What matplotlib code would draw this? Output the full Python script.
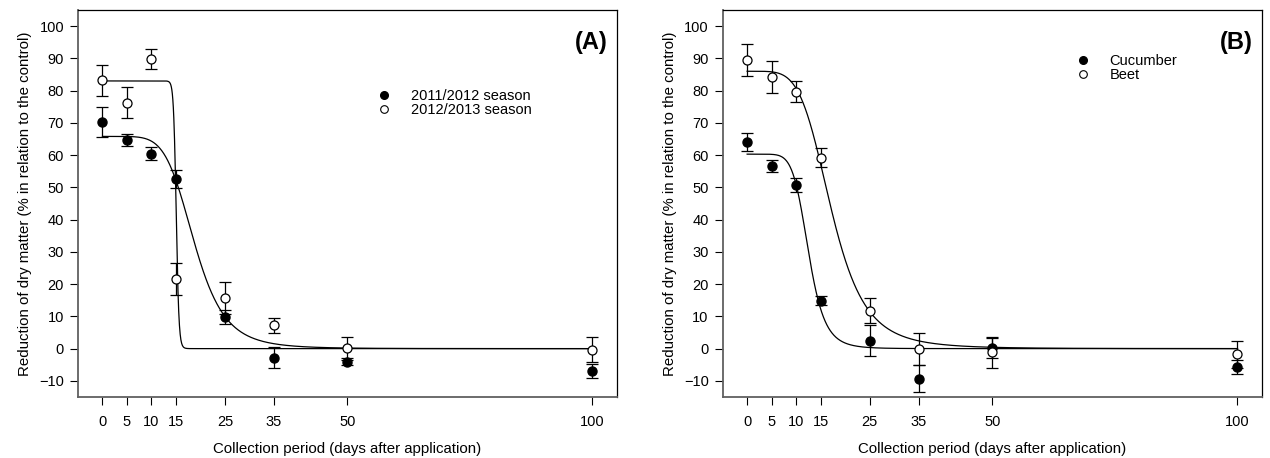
import numpy as np
import matplotlib
matplotlib.use('Agg')
import matplotlib.pyplot as plt
from matplotlib.lines import Line2D

plt.rcParams['font.family'] = ['Liberation Sans', 'DejaVu Sans']

# collection periods (days after application)
days = [0, 5, 10, 15, 25, 35, 50, 100]
xticks = [0, 5, 10, 15, 25, 35, 50, 100]

# panel A - seasons
season1_mean = [70.3, 64.7, 60.5, 52.6, 9.8, -2.8, -4.0, -7.0]
season1_err = [4.7, 1.8, 1.9, 2.9, 2.2, 3.2, 1.1, 2.2]
season2_mean = [83.2, 76.2, 89.9, 21.5, 15.6, 7.2, 0.1, -0.4]
season2_err = [4.8, 4.8, 3.1, 4.9, 5.0, 2.3, 3.5, 3.9]
# fitted logistic: top, x50, slope
season1_fit = [65.8, 18.75, 6.0]
season2_fit = [83.0, 15.05, 55.0]

# panel B - crops
cucumber_mean = [64.1, 56.7, 50.7, 14.8, 2.5, -9.3, 0.2, -5.7]
cucumber_err = [2.8, 1.9, 2.1, 1.4, 4.9, 4.1, 3.0, 2.1]
beet_mean = [89.5, 84.2, 79.7, 59.2, 11.8, -0.1, -1.2, -1.7]
beet_err = [4.9, 5.0, 3.3, 2.9, 3.9, 4.9, 4.9, 4.2]
cucumber_fit = [60.3, 12.5, 7.5]
beet_fit = [86.0, 17.2, 5.0]


def logistic(x, p):
    top, x50, b = p
    return top / (1 + (x / x50) ** b)


def style_axes(ax):
    ax.set_xlim(-5, 105)
    ax.set_ylim(-15, 105)
    ax.set_xticks(xticks)
    ax.set_yticks(np.arange(-10, 101, 10))
    for s in ['left', 'bottom']:
        ax.spines[s].set_color('#606060')
        ax.spines[s].set_linewidth(1.3)
    for s in ['top', 'right']:
        ax.spines[s].set_color('black')
        ax.spines[s].set_linewidth(0.9)
    ax.tick_params(axis='x', direction='out', length=6, width=0.8, pad=7, labelsize=10.5)
    ax.tick_params(axis='y', direction='out', length=6, width=0.8, pad=4, labelsize=10.5)
    ax.set_xlabel('Collection period (days after application)', fontsize=10.8, labelpad=9)
    ax.set_ylabel('Reduction of dry matter (% in relation to the control)', fontsize=10.8, labelpad=5)


def draw_panel(ax, filled, filled_err, filled_fit, opened, opened_err, opened_fit, labels, tag, leg_loc):
    xs = np.linspace(0, 100, 2000)
    ax.plot(xs, logistic(xs, filled_fit), color='black', lw=0.9, zorder=2)
    ax.plot(xs, logistic(xs, opened_fit), color='black', lw=0.9, zorder=2)
    ax.errorbar(days, filled, yerr=filled_err, fmt='o', ms=6.5, mfc='black', mec='black',
                ecolor='black', elinewidth=0.9, capsize=4, capthick=0.9, zorder=3)
    ax.errorbar(days, opened, yerr=opened_err, fmt='o', ms=6.5, mfc='white', mec='black',
                mew=0.9, ecolor='black', elinewidth=0.9, capsize=4, capthick=0.9, zorder=4)
    style_axes(ax)
    ax.text(0.982, 0.915, tag, transform=ax.transAxes, ha='right', va='center',
            fontsize=17, fontweight='bold')
    handles = [Line2D([], [], ls='', marker='o', ms=5.5, mfc='black', mec='black'),
               Line2D([], [], ls='', marker='o', ms=5.5, mfc='white', mec='black', mew=0.8)]
    ax.legend(handles, labels, loc='upper left', bbox_to_anchor=leg_loc, frameon=False,
              fontsize=10.5, handlelength=1.0, handletextpad=1.3, labelspacing=0.0,
              borderpad=0, borderaxespad=0)


fig = plt.figure(figsize=(12.7, 4.58), dpi=100)
ax1 = fig.add_axes([0.0614, 0.1332, 0.4244, 0.845])
ax2 = fig.add_axes([0.5690, 0.1332, 0.4247, 0.845])

draw_panel(ax1, season1_mean, season1_err, season1_fit, season2_mean, season2_err, season2_fit,
           ['2011/2012 season', '2012/2013 season'], '(A)', (0.555, 0.795))
draw_panel(ax2, cucumber_mean, cucumber_err, cucumber_fit, beet_mean, beet_err, beet_fit,
           ['Cucumber', 'Beet'], '(B)', (0.655, 0.885))

fig.savefig('out.png', dpi=100)
